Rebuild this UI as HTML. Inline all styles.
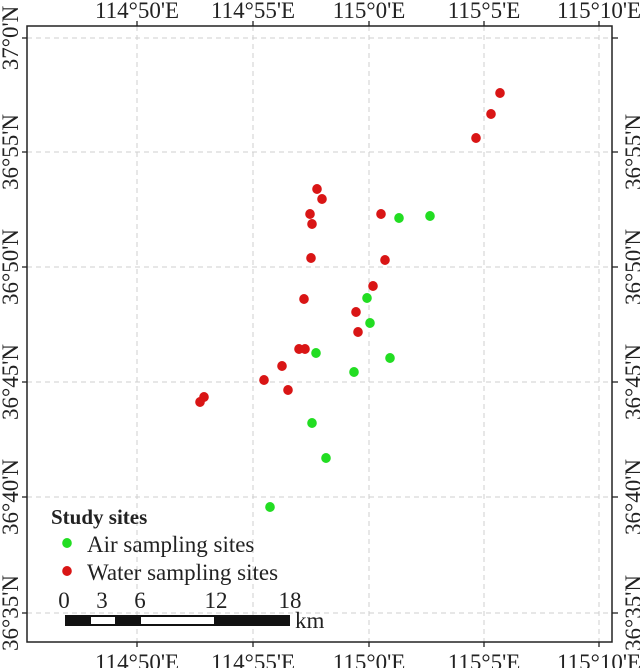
<!DOCTYPE html>
<html><head><style>
html,body{margin:0;padding:0;background:#fff;}
svg{display:block;font-family:"Liberation Serif",serif;}
</style></head><body>
<svg width="640" height="668" viewBox="0 0 640 668">
<rect x="0" y="0" width="640" height="668" fill="#fff"/>
<g stroke="#cfcfcf" stroke-width="1" stroke-dasharray="5,4">
<line x1="137" y1="26" x2="137" y2="642"/><line x1="253" y1="26" x2="253" y2="642"/><line x1="369" y1="26" x2="369" y2="642"/><line x1="484" y1="26" x2="484" y2="642"/><line x1="599" y1="26" x2="599" y2="642"/>
<line x1="27" y1="38" x2="612" y2="38"/><line x1="27" y1="152" x2="612" y2="152"/><line x1="27" y1="267" x2="612" y2="267"/><line x1="27" y1="382" x2="612" y2="382"/><line x1="27" y1="497" x2="612" y2="497"/><line x1="27" y1="613" x2="612" y2="613"/>
</g>
<rect x="27" y="26" width="585" height="616" fill="none" stroke="#222" stroke-width="1.5"/>
<g stroke="#222" stroke-width="1.3">
<line x1="137" y1="26" x2="137" y2="21"/><line x1="253" y1="26" x2="253" y2="21"/><line x1="369" y1="26" x2="369" y2="21"/><line x1="484" y1="26" x2="484" y2="21"/><line x1="599" y1="26" x2="599" y2="21"/>
<line x1="137" y1="642" x2="137" y2="647"/><line x1="253" y1="642" x2="253" y2="647"/><line x1="369" y1="642" x2="369" y2="647"/><line x1="484" y1="642" x2="484" y2="647"/><line x1="599" y1="642" x2="599" y2="647"/>
<line x1="22" y1="38" x2="27" y2="38"/><line x1="22" y1="152" x2="27" y2="152"/><line x1="22" y1="267" x2="27" y2="267"/><line x1="22" y1="382" x2="27" y2="382"/><line x1="22" y1="497" x2="27" y2="497"/><line x1="22" y1="613" x2="27" y2="613"/>
<line x1="612" y1="38" x2="618" y2="38"/><line x1="612" y1="152" x2="618" y2="152"/><line x1="612" y1="267" x2="618" y2="267"/><line x1="612" y1="382" x2="618" y2="382"/><line x1="612" y1="497" x2="618" y2="497"/><line x1="612" y1="613" x2="618" y2="613"/>
</g>
<g font-size="23" fill="#222" text-anchor="middle">
<text x="137" y="18">114°50'E</text><text x="253" y="18">114°55'E</text><text x="369" y="18">115°0'E</text><text x="484" y="18">115°5'E</text><text x="599" y="18">115°10'E</text>
<text x="137" y="670">114°50'E</text><text x="253" y="670">114°55'E</text><text x="369" y="670">115°0'E</text><text x="484" y="670">115°5'E</text><text x="599" y="670">115°10'E</text>
<text transform="translate(18,38) rotate(-90)">37°0'N</text>
<text transform="translate(18,152) rotate(-90)">36°55'N</text>
<text transform="translate(18,267) rotate(-90)">36°50'N</text>
<text transform="translate(18,382) rotate(-90)">36°45'N</text>
<text transform="translate(18,497) rotate(-90)">36°40'N</text>
<text transform="translate(18,613) rotate(-90)">36°35'N</text>
<text transform="translate(641,152) rotate(-90)">36°55'N</text>
<text transform="translate(641,267) rotate(-90)">36°50'N</text>
<text transform="translate(641,382) rotate(-90)">36°45'N</text>
<text transform="translate(641,497) rotate(-90)">36°40'N</text>
<text transform="translate(641,613) rotate(-90)">36°35'N</text>
</g>
<g fill="#d91515">
<ellipse cx="500" cy="93" rx="4.8" ry="5"/><ellipse cx="491" cy="114" rx="4.8" ry="5"/><ellipse cx="476" cy="138" rx="4.8" ry="5"/>
<ellipse cx="317" cy="189" rx="4.8" ry="5"/><ellipse cx="322" cy="199" rx="4.8" ry="5"/><ellipse cx="381" cy="214" rx="4.8" ry="5"/>
<ellipse cx="310" cy="214" rx="4.8" ry="5"/><ellipse cx="312" cy="224" rx="4.8" ry="5"/><ellipse cx="311" cy="258" rx="4.8" ry="5"/>
<ellipse cx="385" cy="260" rx="4.8" ry="5"/><ellipse cx="373" cy="286" rx="4.8" ry="5"/><ellipse cx="304" cy="299" rx="4.8" ry="5"/>
<ellipse cx="356" cy="312" rx="4.8" ry="5"/><ellipse cx="358" cy="332" rx="4.8" ry="5"/><ellipse cx="299" cy="349" rx="4.8" ry="5"/>
<ellipse cx="305" cy="349" rx="4.8" ry="5"/><ellipse cx="282" cy="366" rx="4.8" ry="5"/><ellipse cx="264" cy="380" rx="4.8" ry="5"/>
<ellipse cx="288" cy="390" rx="4.8" ry="5"/><ellipse cx="204" cy="397" rx="4.8" ry="5"/><ellipse cx="200" cy="402" rx="4.8" ry="5"/>
<ellipse cx="67" cy="571" rx="4.8" ry="5"/>
</g>
<g fill="#22dd22">
<ellipse cx="430" cy="216" rx="4.8" ry="5"/><ellipse cx="399" cy="218" rx="4.8" ry="5"/><ellipse cx="367" cy="298" rx="4.8" ry="5"/>
<ellipse cx="370" cy="323" rx="4.8" ry="5"/><ellipse cx="316" cy="353" rx="4.8" ry="5"/><ellipse cx="390" cy="358" rx="4.8" ry="5"/>
<ellipse cx="354" cy="372" rx="4.8" ry="5"/><ellipse cx="312" cy="423" rx="4.8" ry="5"/><ellipse cx="326" cy="458" rx="4.8" ry="5"/>
<ellipse cx="270" cy="507" rx="4.8" ry="5"/>
<ellipse cx="67" cy="543" rx="4.8" ry="5"/>
</g>
<text x="51" y="524" font-size="21" font-weight="bold" fill="#222">Study sites</text>
<text x="87" y="552" font-size="23" fill="#222">Air sampling sites</text>
<text x="87" y="580" font-size="23" fill="#222">Water sampling sites</text>
<g font-size="23" fill="#222" text-anchor="middle">
<text x="64" y="608">0</text><text x="102" y="608">3</text><text x="140" y="608">6</text><text x="216" y="608">12</text><text x="290" y="608">18</text>
</g>
<rect x="65" y="615" width="225" height="11" fill="#111"/>
<rect x="91" y="617" width="24" height="7" fill="#fff"/>
<rect x="141" y="617" width="73" height="7" fill="#fff"/>
<text x="295" y="628" font-size="23" fill="#222">km</text>
</svg>
</body></html>
